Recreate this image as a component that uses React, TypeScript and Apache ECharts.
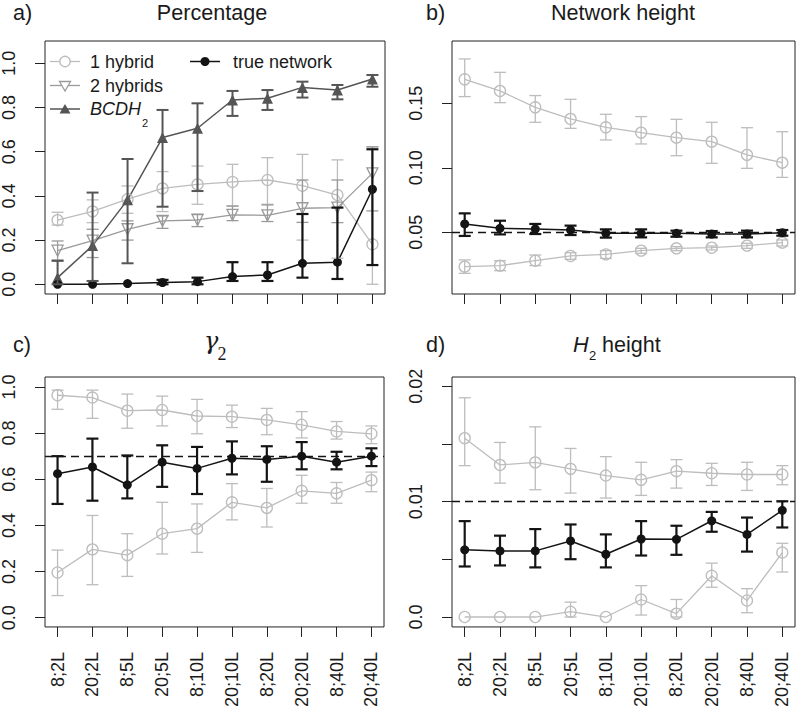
import React, { useEffect, useRef } from "react";
import * as echarts from "echarts";

// ---------- data ----------
const categories = ["8;2L", "20;2L", "8;5L", "20;5L", "8;10L", "20;10L", "8;20L", "20;20L", "8;40L", "20;40L"];

// a) Percentage
const pctOneHybrid = [0.29, 0.33, 0.385, 0.434, 0.452, 0.463, 0.472, 0.446, 0.404, 0.181];
const pctOneHybridLo = [0.268, 0.279, 0.321, 0.329, 0.362, 0.354, 0.362, 0.2, 0.118, 0.0];
const pctOneHybridHi = [0.326, 0.382, 0.445, 0.51, 0.535, 0.543, 0.573, 0.588, 0.563, 0.622];
const pctTwoHybrids = [0.152, 0.198, 0.249, 0.287, 0.291, 0.314, 0.312, 0.344, 0.347, 0.502];
const pctTwoHybridsLo = [0.11, 0.121, 0.2, 0.253, 0.261, 0.288, 0.284, 0.28, 0.279, 0.332];
const pctTwoHybridsHi = [0.196, 0.249, 0.287, 0.309, 0.317, 0.354, 0.359, 0.472, 0.472, 0.622];
const pctBCDH2 = [0.03, 0.175, 0.382, 0.664, 0.706, 0.834, 0.842, 0.891, 0.879, 0.929];
const pctBCDH2Lo = [0.0, 0.015, 0.095, 0.351, 0.422, 0.762, 0.789, 0.845, 0.837, 0.894];
const pctBCDH2Hi = [0.106, 0.415, 0.567, 0.789, 0.819, 0.875, 0.879, 0.917, 0.902, 0.947];
const pctTrue = [0.0, 0.0, 0.003, 0.008, 0.012, 0.035, 0.042, 0.095, 0.1, 0.43];
const pctTrueLo = [0, 0, 0, 0, 0, 0.015, 0.015, 0.03, 0.024, 0.087];
const pctTrueHi = [0, 0, 0.005, 0.02, 0.03, 0.1, 0.1, 0.318, 0.347, 0.611];

// b) Network height
const nhUpper = [0.1686, 0.1596, 0.1469, 0.1379, 0.1314, 0.1273, 0.1234, 0.1203, 0.11, 0.104];
const nhUpperLo = [0.1552, 0.1505, 0.1353, 0.1306, 0.1216, 0.1185, 0.1094, 0.1035, 0.0996, 0.0926];
const nhUpperHi = [0.1844, 0.174, 0.156, 0.1531, 0.1415, 0.1397, 0.1376, 0.1353, 0.1311, 0.128];
const nhLower = [0.0234, 0.0242, 0.028, 0.0317, 0.0329, 0.0358, 0.0376, 0.0381, 0.0397, 0.042];
const nhLowerLo = [0.0182, 0.0203, 0.0242, 0.0291, 0.0298, 0.0337, 0.0358, 0.0363, 0.0376, 0.0394];
const nhLowerHi = [0.0286, 0.028, 0.0324, 0.0342, 0.0358, 0.0376, 0.0389, 0.0394, 0.0415, 0.0441];
const nhTrue = [0.0565, 0.0531, 0.0526, 0.0518, 0.0492, 0.0492, 0.0492, 0.0487, 0.0487, 0.0497];
const nhTrueLo = [0.0472, 0.0484, 0.0487, 0.0479, 0.0459, 0.0461, 0.0466, 0.0461, 0.0461, 0.0474];
const nhTrueHi = [0.0647, 0.059, 0.0565, 0.0552, 0.0523, 0.0523, 0.0513, 0.051, 0.0513, 0.0518];
const nhReference = 0.05;

// c) gamma_2
const gUpper = [0.964, 0.954, 0.897, 0.9, 0.874, 0.871, 0.857, 0.836, 0.807, 0.797];
const gUpperLo = [0.903, 0.864, 0.821, 0.831, 0.797, 0.824, 0.793, 0.779, 0.774, 0.754];
const gUpperHi = [0.986, 0.986, 0.969, 0.96, 0.946, 0.921, 0.907, 0.893, 0.85, 0.831];
const gTrue = [0.624, 0.653, 0.576, 0.674, 0.647, 0.691, 0.686, 0.7, 0.674, 0.7];
const gTrueLo = [0.493, 0.507, 0.517, 0.567, 0.536, 0.621, 0.589, 0.643, 0.643, 0.657];
const gTrueHi = [0.7, 0.776, 0.703, 0.747, 0.74, 0.764, 0.743, 0.761, 0.719, 0.734];
const gLower = [0.196, 0.296, 0.271, 0.364, 0.386, 0.5, 0.476, 0.55, 0.539, 0.596];
const gLowerLo = [0.096, 0.143, 0.179, 0.276, 0.283, 0.424, 0.393, 0.496, 0.496, 0.546];
const gLowerHi = [0.293, 0.443, 0.364, 0.5, 0.493, 0.581, 0.56, 0.617, 0.586, 0.631];
const gReference = 0.7;

// d) H2 height
const hUpper = [0.0155, 0.01318, 0.0134, 0.01284, 0.01226, 0.01189, 0.01264, 0.01246, 0.01235, 0.01235];
const hUpperLo = [0.01312, 0.0116, 0.01103, 0.01074, 0.01031, 0.01054, 0.01117, 0.0114, 0.01097, 0.01146];
const hUpperHi = [0.019, 0.01513, 0.01648, 0.01461, 0.0139, 0.01341, 0.01364, 0.01332, 0.01341, 0.01312];
const hTrue = [0.00582, 0.00573, 0.00573, 0.00659, 0.00544, 0.00676, 0.00673, 0.00834, 0.00716, 0.00925];
const hTrueLo = [0.00438, 0.00447, 0.0043, 0.00501, 0.0043, 0.00533, 0.00539, 0.00739, 0.00567, 0.00776];
const hTrueHi = [0.00831, 0.00705, 0.00762, 0.00802, 0.00716, 0.00831, 0.00791, 0.00911, 0.00862, 0.01003];
const hLower = [0, 0, 0, 0.00046, 0, 0.00152, 0.00029, 0.00358, 0.00143, 0.00559];
const hLowerLo = [0, 0, 0, 0, 0, 0.00017, 0, 0.00258, 0.00037, 0.0039];
const hLowerHi = [0, 0, 0, 0.00129, 0, 0.00272, 0.00152, 0.00467, 0.00246, 0.00639];
const hReference = 0.01;

// tick values
const tickPositions = [1, 2, 3, 4, 5, 6, 7, 8, 9, 10];
const yTicksA = [0, 0.2, 0.4, 0.6, 0.8, 1.0];
const yTicksB = [0.05, 0.1, 0.15];
const yTicksC = [0, 0.2, 0.4, 0.6, 0.8, 1.0];
const yTicksD = [0, 0.005, 0.01, 0.015, 0.02];
const yLabelsD = [0, 0.01, 0.02];

// ---------- styles ----------
const FONT = "'Liberation Sans', Arial, Helvetica, sans-serif";
const SERIF = "'DejaVu Serif', 'Liberation Serif', serif";
const TXT = "#1a1a1a";
const LIGHT = "#bdbdbd";
const MID = "#9a9a9a";
const DARK = "#555555";
const BLACK = "#141414";

const pts = (vals: number[]) => vals.map((v, i) => [i + 1, v]);
const bars = (lo: number[], hi: number[]) => lo.map((l, i) => [i + 1, l, hi[i]]);

function lineSeries(name: string, gi: number, vals: number[], color: string, symbol: string, size: number, filled: boolean, rotate = 0, lw = 1.3, extra: any = {}) {
  return {
    type: "line",
    name,
    xAxisIndex: gi,
    yAxisIndex: gi,
    data: pts(vals),
    symbol,
    symbolSize: size,
    symbolRotate: rotate,
    showAllSymbol: true,
    lineStyle: { color, width: lw },
    itemStyle: filled
      ? { color, borderColor: color, borderWidth: 0 }
      : { color: "rgba(0,0,0,0)", borderColor: color, borderWidth: 1.3 },
    emphasis: { disabled: true },
    z: 2,
    ...extra,
  };
}

function errSeries(name: string, gi: number, lo: number[], hi: number[], color: string, width: number) {
  return {
    type: "custom",
    name,
    xAxisIndex: gi,
    yAxisIndex: gi,
    data: bars(lo, hi),
    encode: { x: 0, y: [1, 2] },
    silent: true,
    z: 3,
    renderItem: (_params: any, api: any) => {
      const x = api.value(0);
      const p1 = api.coord([x, api.value(1)]);
      const p2 = api.coord([x, api.value(2)]);
      if (Math.abs(p1[1] - p2[1]) < 2.5) return { type: "group", children: [] };
      const st = { stroke: color, lineWidth: width, fill: null };
      const w = 6;
      return {
        type: "group",
        children: [
          { type: "line", shape: { x1: p1[0], y1: p1[1], x2: p2[0], y2: p2[1] }, style: st },
          { type: "line", shape: { x1: p1[0] - w, y1: p1[1], x2: p1[0] + w, y2: p1[1] }, style: st },
          { type: "line", shape: { x1: p2[0] - w, y1: p2[1], x2: p2[0] + w, y2: p2[1] }, style: st },
        ],
      };
    },
  };
}

function refLine(value: number) {
  return {
    silent: true,
    symbol: "none",
    label: { show: false },
    lineStyle: { color: BLACK, width: 1.3, type: [8, 5] },
    data: [{ yAxis: value }],
  };
}

const grids = [
  { left: 40, top: 41, width: 345, height: 253 },
  { left: 452, top: 41, width: 343, height: 253 },
  { left: 40, top: 377, width: 344, height: 252 },
  { left: 452, top: 377, width: 343, height: 252 },
];

const yRanges = [
  { min: -0.044, max: 1.101, ticks: yTicksA, labels: yTicksA, fmt: (v: number) => v.toFixed(1) },
  { min: 0.0022, max: 0.1983, ticks: yTicksB, labels: yTicksB, fmt: (v: number) => v.toFixed(2) },
  { min: -0.04, max: 1.043, ticks: yTicksC, labels: yTicksC, fmt: (v: number) => v.toFixed(1) },
  { min: -0.00086, max: 0.0208, ticks: yTicksD, labels: yLabelsD, fmt: (v: number) => (v === 0 ? "0.0" : v.toFixed(2)) },
];

function buildOption() {
  const xAxis = grids.map((_, i) => ({
    type: "value",
    gridIndex: i,
    min: 0.64,
    max: 10.36,
    axisLine: { show: false, onZero: false },
    splitLine: { show: false },
    axisTick: { show: true, length: 10, customValues: tickPositions, lineStyle: { color: "#222", width: 1 } },
    axisLabel: {
      show: i >= 2,
      customValues: tickPositions,
      rotate: 90,
      margin: 25,
      fontSize: 18,
      fontFamily: FONT,
      color: TXT,
      formatter: (v: number) => categories[Math.round(v) - 1] ?? "",
    },
  }));
  const yAxis = yRanges.map((r, i) => ({
    type: "value",
    gridIndex: i,
    min: r.min,
    max: r.max,
    axisLine: { show: false, onZero: false },
    splitLine: { show: false },
    axisTick: { show: true, length: 10, customValues: r.ticks, lineStyle: { color: "#222", width: 1 } },
    axisLabel: {
      show: true,
      customValues: r.labels,
      rotate: 90,
      margin: 27,
      fontSize: 18,
      fontFamily: FONT,
      color: TXT,
      formatter: r.fmt,
    },
  }));

  const series: any[] = [
    // a
    lineSeries("1 hybrid", 0, pctOneHybrid, LIGHT, "circle", 11, false),
    errSeries("1 hybrid err", 0, pctOneHybridLo, pctOneHybridHi, LIGHT, 1.3),
    lineSeries("2 hybrids", 0, pctTwoHybrids, MID, "triangle", 11, false, 180),
    errSeries("2 hybrids err", 0, pctTwoHybridsLo, pctTwoHybridsHi, MID, 1.3),
    lineSeries("BCDH2", 0, pctBCDH2, DARK, "triangle", 11, true, 0, 1.5),
    errSeries("BCDH2 err", 0, pctBCDH2Lo, pctBCDH2Hi, DARK, 2),
    lineSeries("true network", 0, pctTrue, BLACK, "circle", 9, true, 0, 1.5),
    errSeries("true network err", 0, pctTrueLo, pctTrueHi, BLACK, 2.2),
    // b
    lineSeries("1 hybrid upper", 1, nhUpper, LIGHT, "circle", 11, false),
    errSeries("1 hybrid upper err", 1, nhUpperLo, nhUpperHi, LIGHT, 1.3),
    lineSeries("1 hybrid lower", 1, nhLower, LIGHT, "circle", 11, false),
    errSeries("1 hybrid lower err", 1, nhLowerLo, nhLowerHi, LIGHT, 1.3),
    lineSeries("true network b", 1, nhTrue, BLACK, "circle", 9, true, 0, 1.5, { markLine: refLine(nhReference) }),
    errSeries("true network b err", 1, nhTrueLo, nhTrueHi, BLACK, 2.2),
    // c
    lineSeries("1 hybrid upper c", 2, gUpper, LIGHT, "circle", 11, false),
    errSeries("1 hybrid upper c err", 2, gUpperLo, gUpperHi, LIGHT, 1.3),
    lineSeries("1 hybrid lower c", 2, gLower, LIGHT, "circle", 11, false),
    errSeries("1 hybrid lower c err", 2, gLowerLo, gLowerHi, LIGHT, 1.3),
    lineSeries("true network c", 2, gTrue, BLACK, "circle", 9, true, 0, 1.5, { markLine: refLine(gReference) }),
    errSeries("true network c err", 2, gTrueLo, gTrueHi, BLACK, 2.2),
    // d
    lineSeries("1 hybrid upper d", 3, hUpper, LIGHT, "circle", 11, false),
    errSeries("1 hybrid upper d err", 3, hUpperLo, hUpperHi, LIGHT, 1.3),
    lineSeries("1 hybrid lower d", 3, hLower, LIGHT, "circle", 11, false),
    errSeries("1 hybrid lower d err", 3, hLowerLo, hLowerHi, LIGHT, 1.3),
    lineSeries("true network d", 3, hTrue, BLACK, "circle", 9, true, 0, 1.5, { markLine: refLine(hReference) }),
    errSeries("true network d err", 3, hTrueLo, hTrueHi, BLACK, 2.2),
  ];

  const t = (text: string, x: number, y: number, size: number, align = "left", extra: any = {}) => ({
    type: "text",
    x,
    y,
    silent: true,
    style: { text, fontSize: size, fontFamily: FONT, fill: TXT, align, verticalAlign: "middle", lineHeight: Math.round(size * 0.85), ...extra },
  });

  const graphic: any[] = [
    // titles
    t("a)", 13, 12.5, 21.6),
    t("Percentage", 212, 12.5, 21.6, "center"),
    t("b)", 426, 12.5, 21.6),
    t("Network height", 623, 12.5, 21.6, "center"),
    t("c)", 13, 344.5, 21.6),
    t("\u03b3", 204, 341, 24, "left", { fontFamily: SERIF, fontStyle: "italic" }),
    t("2", 217.5, 354, 18, "left", { fontFamily: "'Liberation Serif', serif" }),
    t("d)", 426, 344.5, 21.6),
    t("H", 573, 344.5, 21.6, "left", { fontStyle: "italic" }),
    t("2", 589, 355, 13),
    t("height", 602, 344.5, 21.6),
    // legend
    { type: "line", silent: true, shape: { x1: 50, y1: 61.5, x2: 80, y2: 61.5 }, style: { stroke: LIGHT, lineWidth: 1.3 } },
    { type: "circle", silent: true, shape: { cx: 65, cy: 61.5, r: 5.2 }, style: { stroke: LIGHT, lineWidth: 1.3, fill: "#fff" } },
    t("1 hybrid", 90, 61.5, 18),
    { type: "line", silent: true, shape: { x1: 50, y1: 85.5, x2: 80, y2: 85.5 }, style: { stroke: MID, lineWidth: 1.3 } },
    { type: "polygon", silent: true, shape: { points: [[59.5, 81.5], [70.5, 81.5], [65, 91]] }, style: { stroke: MID, lineWidth: 1.3, fill: "#fff" } },
    t("2 hybrids", 90, 85.5, 18),
    { type: "line", silent: true, shape: { x1: 50, y1: 109, x2: 80, y2: 109 }, style: { stroke: DARK, lineWidth: 1.5 } },
    { type: "polygon", silent: true, shape: { points: [[59.5, 113.5], [70.5, 113.5], [65, 104]] }, style: { fill: DARK } },
    t("BCDH", 90, 109, 18, "left", { fontStyle: "italic" }),
    t("2", 142, 123, 11),
    { type: "line", silent: true, shape: { x1: 190, y1: 61.5, x2: 220, y2: 61.5 }, style: { stroke: BLACK, lineWidth: 1.5 } },
    { type: "circle", silent: true, shape: { cx: 205, cy: 61.5, r: 4.5 }, style: { fill: BLACK } },
    t("true network", 233, 61.5, 18),
  ];

  return {
    animation: false,
    backgroundColor: "#ffffff",
    textStyle: { fontFamily: FONT },
    grid: grids.map((g) => ({ ...g, show: true, borderColor: "#222", borderWidth: 1, backgroundColor: "rgba(0,0,0,0)", containLabel: false })),
    xAxis,
    yAxis,
    series,
    graphic,
  };
}

export default function App() {
  const ref = useRef<HTMLDivElement>(null);
  useEffect(() => {
    if (!ref.current) return;
    const chart = echarts.init(ref.current, undefined, { renderer: "svg" });
    chart.setOption(buildOption() as any);
    return () => chart.dispose();
  }, []);
  return (
    <div
      ref={ref}
      style={{ position: "absolute", left: 0, top: 0, width: 796, height: 710, background: "#fff" }}
    />
  );
}
